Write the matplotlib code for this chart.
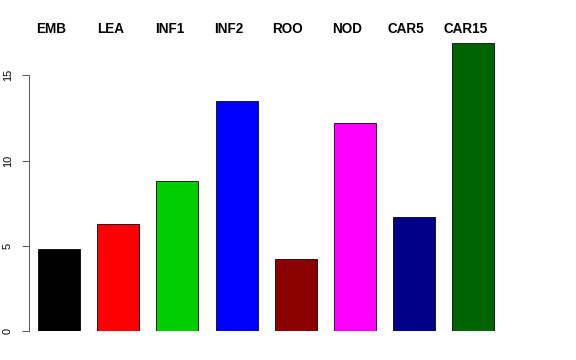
import matplotlib
matplotlib.use("Agg")
import matplotlib.pyplot as plt

labels = ["EMB", "LEA", "INF1", "INF2", "ROO", "NOD", "CAR5", "CAR15"]
values = [4.83, 6.28, 8.8, 13.49, 4.22, 12.18, 6.69, 16.91]
colors = ["#000000", "#FF0000", "#00CD00", "#0000FF", "#8B0000", "#FF00FF", "#00008B", "#006400"]

plt.rcParams['font.family'] = ['Liberation Sans', 'DejaVu Sans']

fig = plt.figure(figsize=(8, 5), dpi=72)
W, H = 576.0, 360.0
px_unit = 59.2
x_lo, x_hi = -0.507, 7.6
y_top = 17.0
ax = fig.add_axes([29 / W, (H - 331) / H, (x_hi - x_lo) * px_unit / W, y_top * 17.05 / H])

pos = list(range(len(labels)))
ax.bar(pos, values, width=0.71, color=colors, edgecolor="black", linewidth=0.8)
ax.set_xlim(x_lo, x_hi)
ax.set_ylim(0, y_top)

for s in ["top", "right", "bottom"]:
    ax.spines[s].set_visible(False)
ax.spines["left"].set_bounds(0, 15)
ax.spines["left"].set_color("#333333")
ax.set_xticks([])
ax.set_yticks([0, 5, 10, 15])
ax.tick_params(axis="y", length=7, pad=9, labelsize=11, color="#333333")
for t in ax.get_yticklabels():
    t.set_rotation(90)
    t.set_va("center")

# names sit a little left of each bar centre, as in the original
for i, lab in enumerate(labels):
    ax.text(i - 0.135, (331 - 29) / 17.05, lab, ha="center", va="center",
            fontsize=13.5, fontweight="bold", clip_on=False)

fig.savefig("out.png", dpi=72)
